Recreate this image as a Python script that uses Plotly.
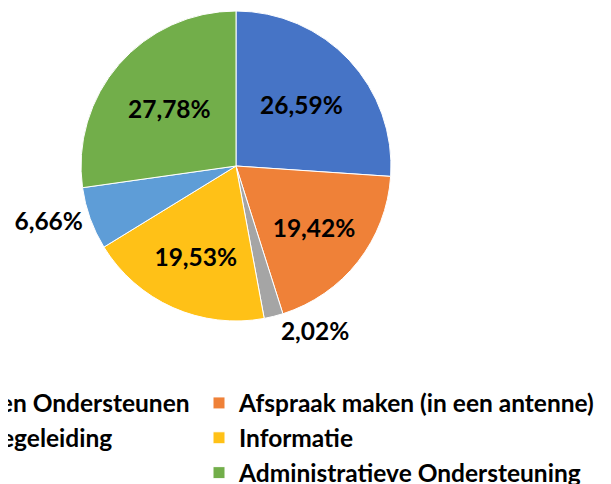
import plotly.graph_objects as go

categories = [
    "Doorverwijzing en Ondersteunen",
    "Afspraak maken (in een antenne)",
    "Psychosociale Begeleiding",
    "Informatie",
    "Andere",
    "Administratieve Ondersteuning",
]
values = [26.59, 19.42, 2.02, 19.53, 6.66, 27.78]
colors = ["#4674C6", "#EF8138", "#A5A5A5", "#FFC117", "#5E9DD7", "#72AE4A"]
text_positions = ["inside", "inside", "outside", "inside", "outside", "inside"]

# page body has an 8px margin: figure coords = screen coords - 8.
# The figure is wider than the window; only its left part is visible (as in the cropped reference).
W, H = 900, 476
MB = 106
P = H - MB  # paper height

CX, CY, R = 228, 158, 155
ENTRY = 367
PITCH = ENTRY + 40
COL2_ITEM_X = 186
LEGEND_TOP = 372.5

fig = go.Figure(
    go.Pie(
        labels=categories,
        values=values,
        sort=False,
        direction="clockwise",
        rotation=0,
        marker=dict(colors=colors, line=dict(color="white", width=1)),
        texttemplate="%{value:.2f}%",
        textposition=text_positions,
        insidetextorientation="horizontal",
        textfont=dict(family="Lato", size=24.5, color="black", weight="bold"),
        hoverinfo="label+value",
        domain=dict(x=[(CX - R) / W, (CX + R) / W],
                    y=[(P - (CY + R)) / P, (P - (CY - R)) / P]),
    )
)

fig.update_layout(
    width=W,
    height=H,
    margin=dict(l=0, r=0, t=0, b=MB, autoexpand=False),
    paper_bgcolor="white",
    plot_bgcolor="white",
    separators=",.",
    showlegend=True,
    legend=dict(
        orientation="h",
        x=(COL2_ITEM_X - PITCH) / W,
        xanchor="left",
        y=(P - LEGEND_TOP) / P,
        yanchor="top",
        entrywidth=ENTRY,
        entrywidthmode="pixels",
        font=dict(family="Lato", size=24.5, color="black", weight="bold"),
        traceorder="normal",
    ),
    font=dict(family="Lato"),
)

fig.write_html("out.html")
